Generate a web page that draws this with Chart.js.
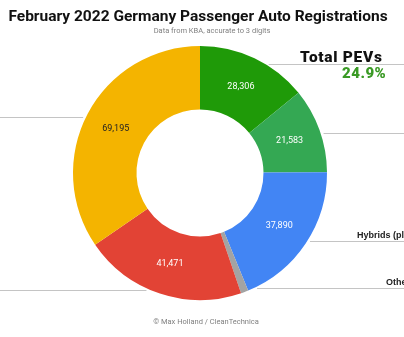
<!DOCTYPE html>
<html>
<head>
<meta charset="utf-8">
<script src="https://cdn.jsdelivr.net/npm/chart.js@4"></script>
<style>
  html, body { margin: 0; padding: 0; background: #ffffff; }
  #wrap { width: 404px; height: 337px; position: relative; }
  canvas { display: block; }
</style>
</head>
<body>
<div id="wrap"><canvas id="c" width="404" height="337"></canvas></div>
<script>
// ---- data ----
const categories = ["BEVs", "PHEVs", "Hybrids (plain)", "Others", "Diesel", "Petrol"];
const registrations = [28306, 21583, 37890, 1900, 41471, 69195];
const sliceColors = ["#1f9a08", "#34a853", "#4285f4", "#a3a3a3", "#e24335", "#f4b400"];
const labelColors = ["#ffffff", "#ffffff", "#ffffff", "#ffffff", "#ffffff", "#222222"];
const showValue = [true, true, true, false, true, true];

const titleText = "February 2022 Germany Passenger Auto Registrations";
const subtitleText = "Data from KBA, accurate to 3 digits";
const footerText = "\u00A9 Max Holland / CleanTechnica";
const pevTitle = "Total PEVs";

const total = registrations.reduce((a, b) => a + b, 0);
const pevShare = ((registrations[0] + registrations[1]) / total * 100).toFixed(1) + "%";

// ---- annotation plugin ----
const annotate = {
  id: 'annotate',
  afterDatasetsDraw(chart, args, opts) {
    const ctx = chart.ctx;
    const meta = chart.getDatasetMeta(0);
    ctx.save();
    ctx.font = "9px Roboto, 'Liberation Sans', sans-serif";
    ctx.textAlign = "center";
    ctx.textBaseline = "middle";
    meta.data.forEach((arc, i) => {
      if (!showValue[i]) return;
      const p = arc.tooltipPosition();
      ctx.fillStyle = labelColors[i];
      ctx.fillText(registrations[i].toLocaleString('en-US'), p.x, p.y);
    });
    ctx.strokeStyle = "#c4c4c4";
    ctx.lineWidth = 1;
    meta.data.forEach((arc, i) => {
      const mid = (arc.startAngle + arc.endAngle) / 2;
      const R = arc.outerRadius;
      let y = arc.y + Math.sin(mid) * R + opts.lineShift[i];
      const dy = y - arc.y;
      const dx = Math.sqrt(Math.max(0, R * R - dy * dy)) + 3;
      const right = Math.cos(mid) >= 0;
      const x0 = right ? arc.x + dx : arc.x - dx;
      const x1 = right ? chart.width : 0;
      y = Math.round(y) + 0.5;
      ctx.beginPath();
      ctx.moveTo(x0, y);
      ctx.lineTo(x1, y);
      ctx.stroke();
    });
    ctx.restore();
  },
  afterDraw(chart) {
    const ctx = chart.ctx;
    ctx.save();
    ctx.textAlign = "center";
    ctx.textBaseline = "alphabetic";
    ctx.fillStyle = "#111111";
    ctx.font = "bold 15.5px Roboto, 'Liberation Sans', sans-serif";
    ctx.fillText(titleText, 198, 21);
    ctx.fillStyle = "#808080";
    ctx.font = "7.5px Roboto, 'Liberation Sans', sans-serif";
    ctx.fillText(subtitleText, 212, 33);
    ctx.fillText(footerText, 206, 324);

    ctx.textAlign = "left";
    ctx.fillStyle = "#111111";
    ctx.font = "900 15.5px Roboto, 'Liberation Sans', Arial, sans-serif";
    if ('letterSpacing' in ctx) ctx.letterSpacing = "0.7px";
    ctx.fillText(pevTitle, 300, 62);
    ctx.fillStyle = "#3a9a25";
    ctx.font = "900 15px Roboto, 'Liberation Sans', Arial, sans-serif";
    if ('letterSpacing' in ctx) ctx.letterSpacing = "0.5px";
    ctx.fillText(pevShare, 342, 78);
    if ('letterSpacing' in ctx) ctx.letterSpacing = "0px";

    ctx.fillStyle = "#222222";
    ctx.font = "bold 9px 'Liberation Sans', Arial, sans-serif";
    ctx.fillText(categories[2], 357, 238);
    ctx.fillText(categories[3], 386, 285);
    ctx.restore();
  }
};

new Chart(document.getElementById('c'), {
  type: 'doughnut',
  data: {
    labels: categories,
    datasets: [{
      data: registrations,
      backgroundColor: sliceColors,
      borderWidth: 0
    }]
  },
  options: {
    responsive: false,
    animation: false,
    devicePixelRatio: 1,
    cutout: '50%',
    layout: { padding: { top: 46, bottom: 37, left: 0, right: 4 } },
    plugins: {
      legend: { display: false },
      tooltip: { enabled: false },
      title: { display: false },
      annotate: { lineShift: [6, 3, -2, -4, -4, 3] }
    }
  },
  plugins: [annotate]
});
</script>
</body>
</html>
